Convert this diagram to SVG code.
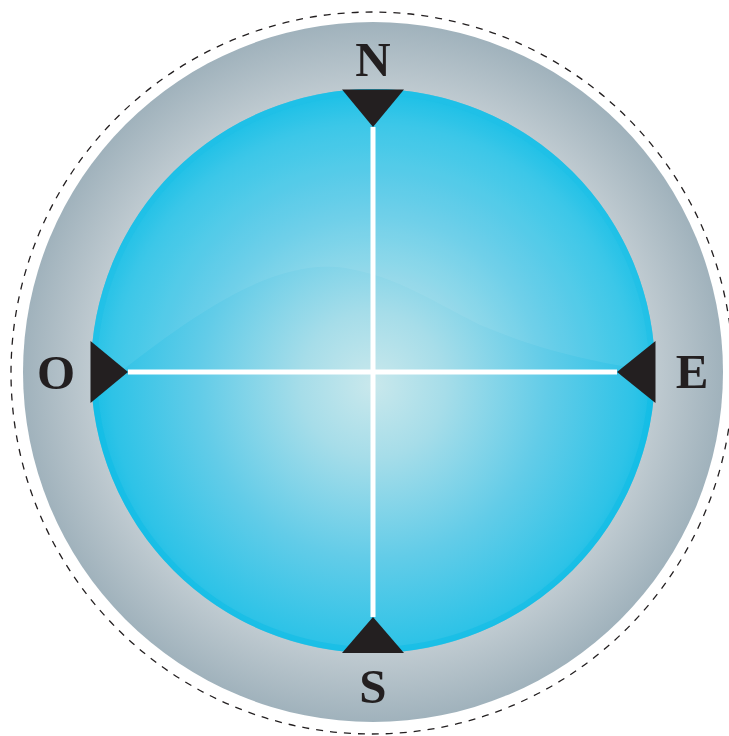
<svg xmlns="http://www.w3.org/2000/svg" width="729" height="736" viewBox="0 0 729 736">
<defs>
<radialGradient id="ring" cx="373" cy="372" r="350" gradientUnits="userSpaceOnUse">
<stop offset="0.8" stop-color="#c0cbd1"/>
<stop offset="1" stop-color="#a0b2bc"/>
</radialGradient>
<radialGradient id="face" cx="373" cy="385" r="290" gradientUnits="userSpaceOnUse">
<stop offset="0" stop-color="#c9e8ec"/>
<stop offset="0.25" stop-color="#a6dde9"/>
<stop offset="0.6" stop-color="#62cce8"/>
<stop offset="0.9" stop-color="#2ec3e7"/>
<stop offset="1" stop-color="#10bde6"/>
</radialGradient>
<clipPath id="faceClip"><circle cx="373" cy="371" r="282"/></clipPath>
<style>
.lbl{font-family:"Liberation Serif","Times New Roman",serif;font-weight:bold;font-size:49px;fill:#231f20;text-anchor:middle}
.mark{fill:#231f20}
.axis{stroke:#ffffff;stroke-width:5;fill:none}
</style>
</defs>
<g id="outline"><circle cx="372" cy="373" r="361" fill="none" stroke="#231f20" stroke-width="1.3" stroke-dasharray="7,7"/></g>
<g id="bezel"><circle cx="373" cy="372" r="350" fill="url(#ring)"/></g>
<g id="face-group">
<circle cx="373" cy="371" r="282" fill="url(#face)"/>
<circle cx="373" cy="371" r="279" fill="none" stroke="#0cbbe5" stroke-width="6" opacity="0.5"/>
<path clip-path="url(#faceClip)" d="M 60 420 C 160 340 260 255 345 268 C 400 278 430 300 480 325 C 540 350 590 362 660 372 L 700 0 L 0 0 Z" fill="#ffffff" opacity="0.07"/>
</g>
<g id="connectors">
<line class="axis" x1="128" y1="372" x2="617" y2="372"/>
<line class="axis" x1="373" y1="127" x2="373" y2="617"/>
</g>
<g id="node-N"><polygon class="mark" points="342,89.5 404,89.5 373,127"/><text class="lbl" x="373" y="76">N</text></g>
<g id="node-O"><polygon class="mark" points="90.5,341 90.5,403 128,372"/><text class="lbl" x="56" y="389">O</text></g>
<g id="node-E"><polygon class="mark" points="655.5,341 655.5,403 617,372"/><text class="lbl" x="692" y="388">E</text></g>
<g id="node-S"><polygon class="mark" points="342,653 404,653 373,617"/><text class="lbl" x="373" y="703">S</text></g>
</svg>
